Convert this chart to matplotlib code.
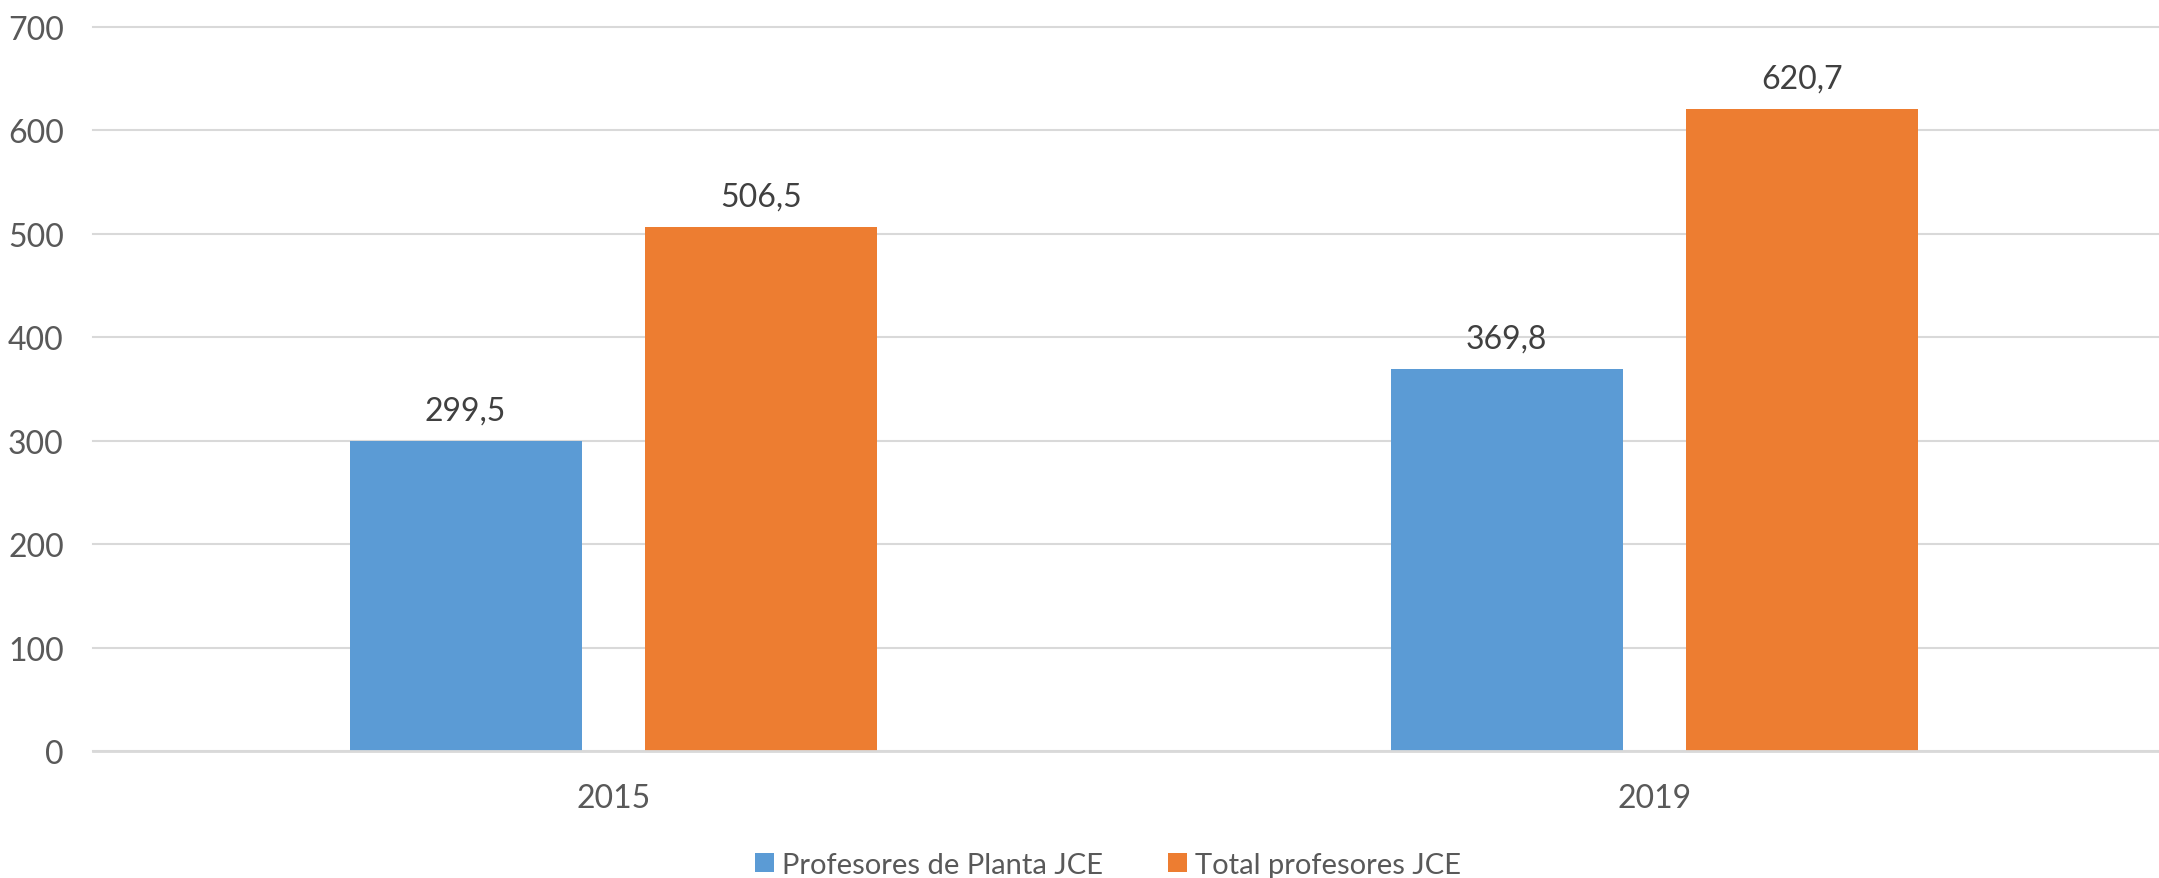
import numpy as np
from matplotlib import pyplot as plt

# Data
years = ["2015", "2019"]
planta = [299.5, 369.8]          # Profesores de Planta JCE
total = [506.5, 620.7]           # Total profesores JCE
series_names = ["Profesores de Planta JCE", "Total profesores JCE"]

plt.rcParams['font.family'] = ['Lato', 'DejaVu Sans']

fig = plt.figure(figsize=(21.59, 8.79), dpi=100)
# axes runs a little past the right edge of the figure (the chart is cropped there)
ax = fig.add_axes([93 / 2159, 127 / 879, 2082 / 2159, (752 - 28) / 879])

x = np.arange(len(years))
w = 0.223
off = 0.142
b1 = ax.bar(x - off, planta, w, color='#5B9BD5', label=series_names[0], zorder=3)
b2 = ax.bar(x + off, total, w, color='#ED7D31', label=series_names[1], zorder=3)

# Value labels with comma decimal
for bars, vals in [(b1, planta), (b2, total)]:
    for rect, v in zip(bars, vals):
        ax.annotate(f"{v:.1f}".replace('.', ','),
                    (rect.get_x() + rect.get_width() / 2, rect.get_height()),
                    xytext=(0, 11), textcoords='offset points',
                    ha='center', va='bottom', fontsize=23, color='#404040')

ax.set_xlim(-0.5, 1.5)
ax.set_ylim(0, 700)
ax.set_yticks(range(0, 701, 100))
ax.set_xticks(x)
ax.set_xticklabels(years)

ax.grid(axis='y', color='#d9d9d9', linewidth=1.5, zorder=0)
for gl in ax.get_ygridlines():
    gl.set_clip_on(False)
for s in ['top', 'right', 'left']:
    ax.spines[s].set_visible(False)
ax.spines['bottom'].set_color('#d9d9d9')
ax.spines['bottom'].set_linewidth(2)
ax.spines['bottom'].set_zorder(4)

ax.tick_params(axis='both', length=0, labelsize=23, labelcolor='#595959')
ax.tick_params(axis='y', pad=21)
ax.tick_params(axis='x', pad=23)

fig.legend(loc='center', bbox_to_anchor=(1108 / 2159, 13 / 879), ncol=2, frameon=False,
           fontsize=21, labelcolor='#595959', handlelength=0.65, handleheight=0.65,
           handletextpad=0.3, columnspacing=2.2, borderaxespad=0)

plt.savefig("out.png", dpi=100)
